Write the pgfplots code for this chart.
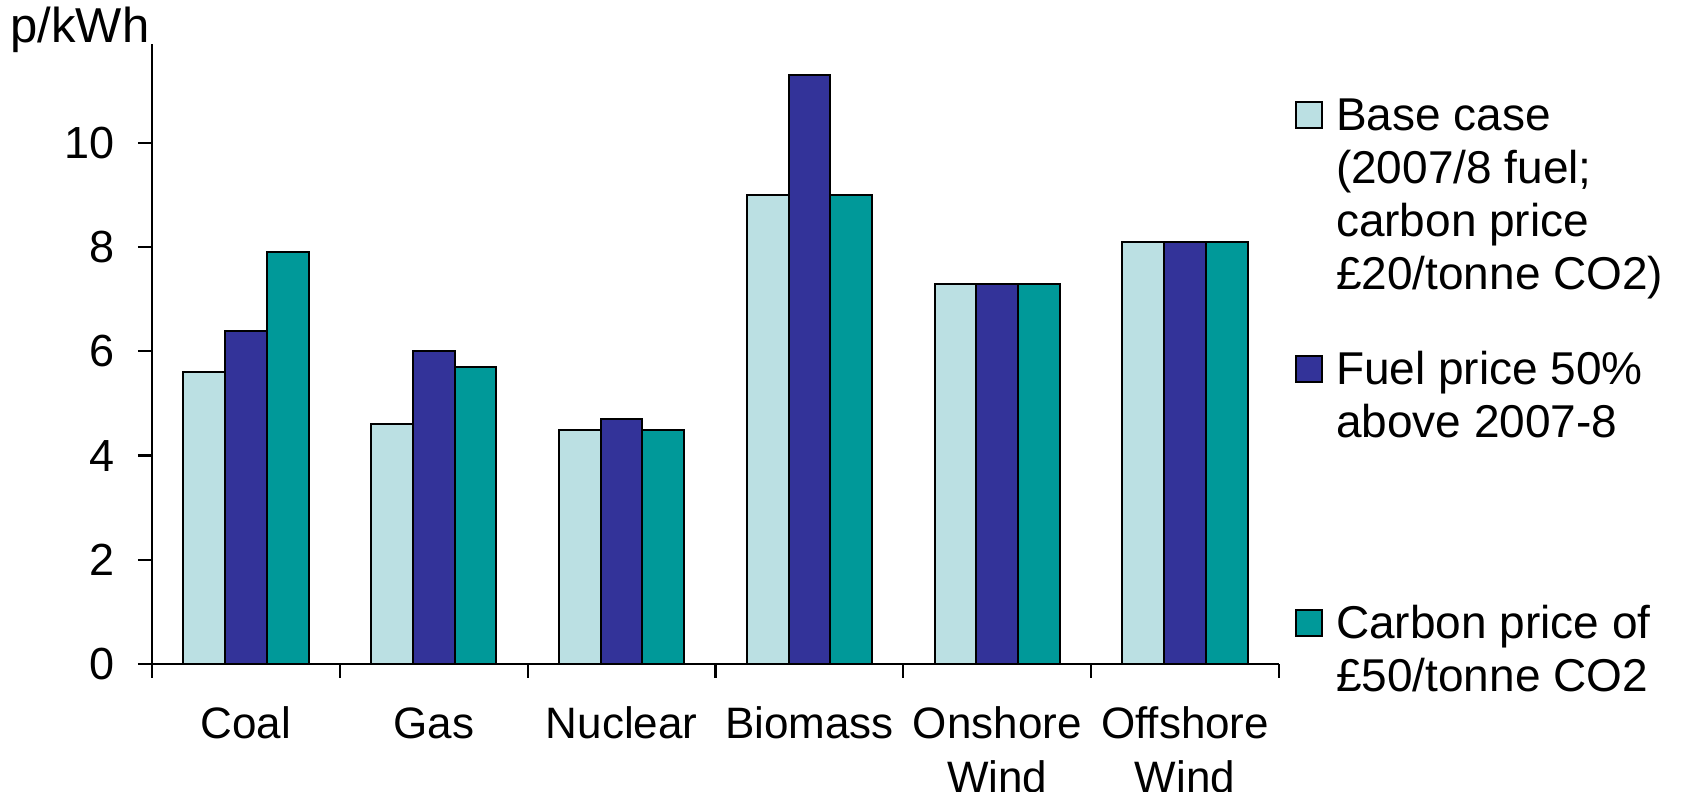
\documentclass[border=0pt]{standalone}
\usepackage{fontspec}
\setmainfont{Liberation Sans}
\usepackage{pgfplots}
\pgfplotsset{compat=1.18}
\definecolor{cBase}{RGB}{187,224,227}
\definecolor{cFuel}{RGB}{51,51,153}
\definecolor{cCarb}{RGB}{0,153,153}
\pgfplotsset{
  /pgfplots/ybar legend/.style={
    /pgfplots/legend image code/.code={\draw[##1] (0pt,1pt) rectangle (13pt,14pt);}
  }
}
\begin{document}
\begin{tikzpicture}
\path[use as bounding box] (-76pt,-64pt) rectangle (765pt,332pt);
\begin{axis}[
  scale only axis, width=563.5pt, height=310pt,
  xmin=-0.5, xmax=5.5, ymin=0, ymax=11.9,
  axis lines=left,
  axis line style={-, line width=1.1pt},
  tick align=outside,
  ybar=0pt, bar width=20.87pt,
  ytick={0,2,4,6,8,10},
  xtick={0,1,2,3,4,5},
  xticklabels={{\strut Coal},{\strut Gas},{\strut Nuclear},{\strut Biomass},{\strut Onshore\\Wind},{\strut Offshore\\Wind}},
  minor xtick={-0.5,0.5,1.5,2.5,3.5,4.5,5.5},
  major tick length=7pt, minor tick length=7pt,
  every tick/.style={black, line width=1.1pt},
  major x tick style={draw=none},
  yticklabel style={font=\fontsize{22.5}{27}\selectfont, inner sep=0pt, anchor=east, xshift=-11.5pt},
  xticklabel style={font=\fontsize{22}{27}\selectfont, align=center, inner sep=0pt, anchor=north, yshift=-11.1pt},
  /pgf/number format/assume math mode=true,
  legend style={
    at={(1.0142,0.9258)}, anchor=north west,
    draw=none, fill=none, inner sep=0pt, outer sep=0pt,
    row sep=0pt, column sep=6.5pt,
    font=\fontsize{23}{26.5}\selectfont,
    cells={anchor=base west},
    nodes={inner sep=0pt, text depth=, text height=},
  },
]
\addplot[fill=cBase, draw=black, line width=1pt] coordinates {(0,5.6) (1,4.6) (2,4.5) (3,9.0) (4,7.3) (5,8.1)};
\addlegendentry{\raisebox{0pt}[20pt][107pt]{\begin{tabular}[t]{@{}l@{}}Base case\\(2007/8 fuel;\\carbon price\\£20/tonne CO2)\end{tabular}}}
\addplot[fill=cFuel, draw=black, line width=1pt] coordinates {(0,6.4) (1,6.0) (2,4.7) (3,11.3) (4,7.3) (5,8.1)};
\addlegendentry{\raisebox{0pt}[20pt][107pt]{\begin{tabular}[t]{@{}l@{}}Fuel price 50\%\\above 2007-8\end{tabular}}}
\addplot[fill=cCarb, draw=black, line width=1pt] coordinates {(0,7.9) (1,5.7) (2,4.5) (3,9.0) (4,7.3) (5,8.1)};
\addlegendentry{\raisebox{0pt}[20pt][107pt]{\begin{tabular}[t]{@{}l@{}}Carbon price of\\£50/tonne CO2\end{tabular}}}
\end{axis}
\node[anchor=base west, font=\fontsize{24.5}{29}\selectfont, inner sep=0pt] at (-71pt,310.5pt) {p/kWh};
\end{tikzpicture}
\end{document}
